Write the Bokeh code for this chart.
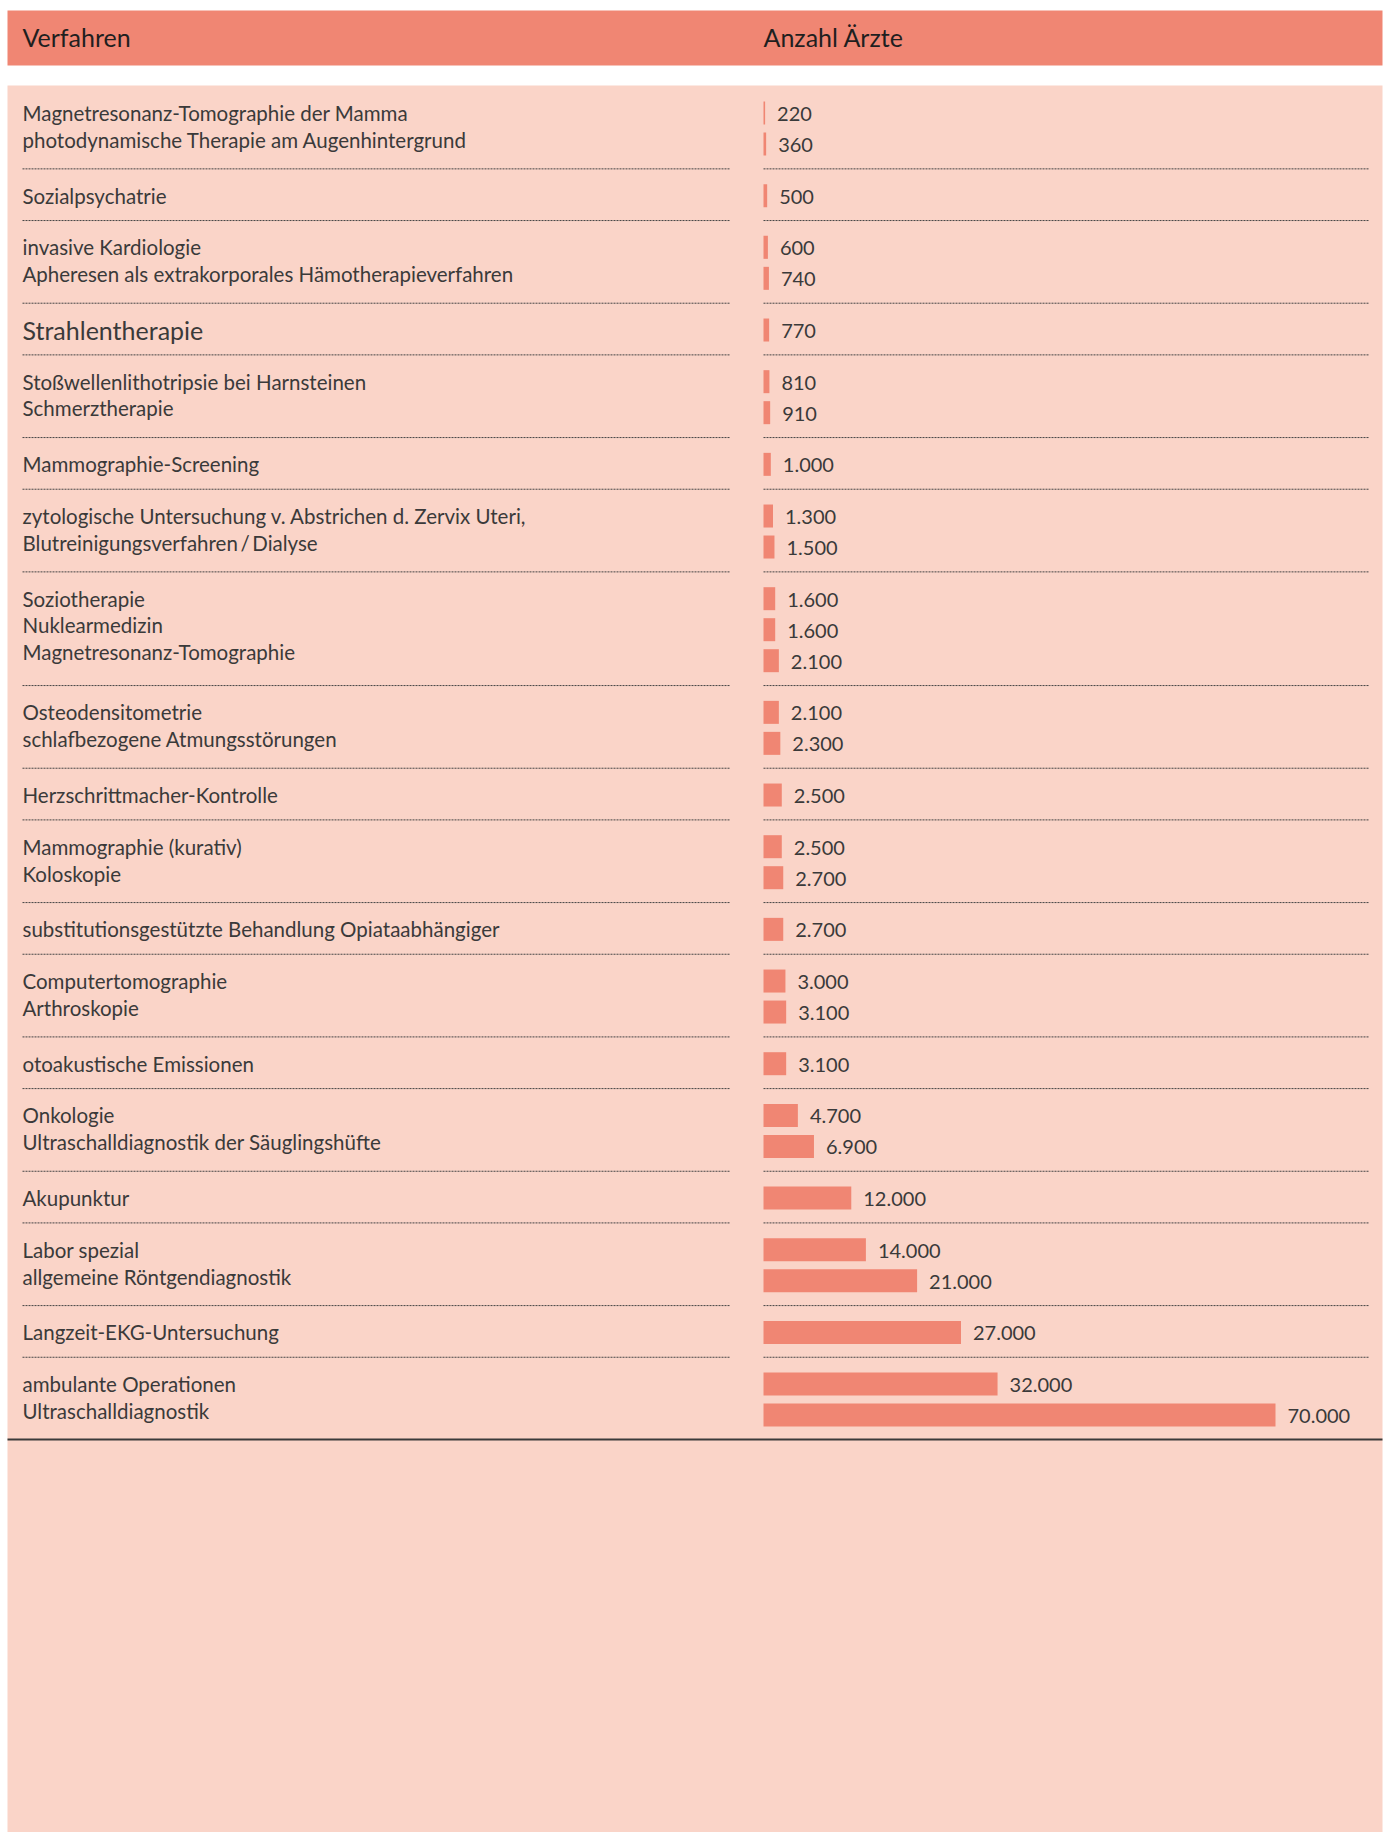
from bokeh.plotting import figure
from bokeh.models import Range1d, ColumnDataSource
from bokeh.core.properties import value
from bokeh.embed import file_html
from bokeh.resources import INLINE

# ---------------- data ----------------
header_left = "Verfahren"
header_right = "Anzahl Ärzte"

verfahren = [
    "Magnetresonanz-Tomographie der Mamma",
    "photodynamische Therapie am Augenhintergrund",
    "Sozialpsychatrie",
    "invasive Kardiologie",
    "Apheresen als extrakorporales Hämotherapieverfahren",
    "Strahlentherapie",
    "Stoßwellenlithotripsie bei Harnsteinen",
    "Schmerztherapie",
    "Mammographie-Screening",
    "zytologische Untersuchung v. Abstrichen d. Zervix Uteri,",
    "Blutreinigungsverfahren\u2009/\u2009Dialyse",
    "Soziotherapie",
    "Nuklearmedizin",
    "Magnetresonanz-Tomographie",
    "Osteodensitometrie",
    "schlafbezogene Atmungsstörungen",
    "Herzschrittmacher-Kontrolle",
    "Mammographie (kurativ)",
    "Koloskopie",
    "substitutionsgestützte Behandlung Opiataabhängiger",
    "Computertomographie",
    "Arthroskopie",
    "otoakustische Emissionen",
    "Onkologie",
    "Ultraschalldiagnostik der Säuglingshüfte",
    "Akupunktur",
    "Labor spezial",
    "allgemeine Röntgendiagnostik",
    "Langzeit-EKG-Untersuchung",
    "ambulante Operationen",
    "Ultraschalldiagnostik",
]

anzahl = [220, 360, 500, 600, 740, 770, 810, 910, 1000, 1300, 1500,
          1600, 1600, 2100, 2100, 2300, 2500, 2500, 2700, 2700, 3000,
          3100, 3100, 4700, 6900, 12000, 14000, 21000, 27000, 32000, 70000]

gruppe = [0, 0, 1, 2, 2, 3, 4, 4, 5, 6, 6, 7, 7, 7, 8, 8, 9, 10, 10,
          11, 12, 12, 13, 14, 14, 15, 16, 16, 17, 18, 18]

# ---------------- layout / style ----------------
W, H = 1387, 1832
SALMON = "#F08673"
PINK = "#FAD4C8"
TXT = "#3a3a3a"
FONT = value("Lato")

ROW = 31.0
GAP = 20.67
TOP0 = 101.0
BAR_H = 23
BAR_X0 = 763
BAR_LEN = 512  # pixel length of the largest bar
LEFT_X = 22
TSHIFT = -9.5   # text baseline correction

n = len(anzahl)
bar_top = [TOP0 + ROW * i + GAP * gruppe[i] for i in range(n)]

first_of_group = {}
for i, g in enumerate(gruppe):
    first_of_group.setdefault(g, i)

text_base = []
for i, g in enumerate(gruppe):
    f = first_of_group[g]
    text_base.append(bar_top[f] + 21 + 26.8 * (i - f) + TSHIFT)

font_sizes = ["25px" if v == "Strahlentherapie" else "20.5px" for v in verfahren]

src = ColumnDataSource(dict(
    verfahren=verfahren,
    anzahl=anzahl,
    label=[f"{v:,}".replace(",", ".") for v in anzahl],
    yc=[t + BAR_H / 2 for t in bar_top],
    ybase=[t + 22 + TSHIFT for t in bar_top],
    tbase=text_base,
    fs=font_sizes,
))

vmax = max(anzahl)
units_per_px = vmax / BAR_LEN

p = figure(width=W, height=H, x_range=Range1d(0, W), y_range=Range1d(H, 0),
           output_backend="svg", toolbar_location=None, min_border=0,
           x_axis_type=None, y_axis_type=None,
           background_fill_color="white", border_fill_color="white",
           outline_line_color=None)
p.grid.visible = False
p.extra_x_ranges = {"val": Range1d(-BAR_X0 * units_per_px, (W - BAR_X0) * units_per_px)}

# background bands
p.quad(left=7, right=1382, top=10, bottom=65, fill_color=SALMON, line_color=None)
p.quad(left=7, right=1382, top=85, bottom=H, fill_color=PINK, line_color=None)

# header texts
p.text(x=[LEFT_X, BAR_X0], y=[46 + TSHIFT, 46 + TSHIFT], text=[header_left, header_right],
       text_font=FONT, text_font_size="25px", text_color="#1f1f1f",
       text_baseline="alphabetic", text_align="left")

# separators between groups
sep_y = [bar_top[first_of_group[g]] - 15.3 for g in sorted(first_of_group) if g > 0]
p.segment(x0=[LEFT_X] * len(sep_y), x1=[729] * len(sep_y), y0=sep_y, y1=sep_y,
          line_color="#444444", line_width=1, line_dash="2 1")
p.segment(x0=[BAR_X0] * len(sep_y), x1=[1369] * len(sep_y), y0=sep_y, y1=sep_y,
          line_color="#444444", line_width=1, line_dash="2 1")

# bottom rule
bottom_y = bar_top[-1] + 36
p.segment(x0=[7], x1=[1382], y0=[bottom_y], y1=[bottom_y], line_color="#3a3a3a", line_width=2)

# bars
p.hbar(y="yc", left=0, right="anzahl", height=BAR_H, x_range_name="val",
       fill_color=SALMON, line_color=None, source=src)

# value labels
p.text(x="anzahl", y="ybase", text="label", x_range_name="val", x_offset=12,
       text_font=FONT, text_font_size="20px", text_color=TXT,
       text_baseline="alphabetic", text_align="left", source=src)

# category labels
p.text(x=LEFT_X, y="tbase", text="verfahren", text_font=FONT, text_font_size="fs",
       text_color=TXT, text_baseline="alphabetic", text_align="left", source=src)

open("out.html", "w").write(file_html(p, INLINE))
